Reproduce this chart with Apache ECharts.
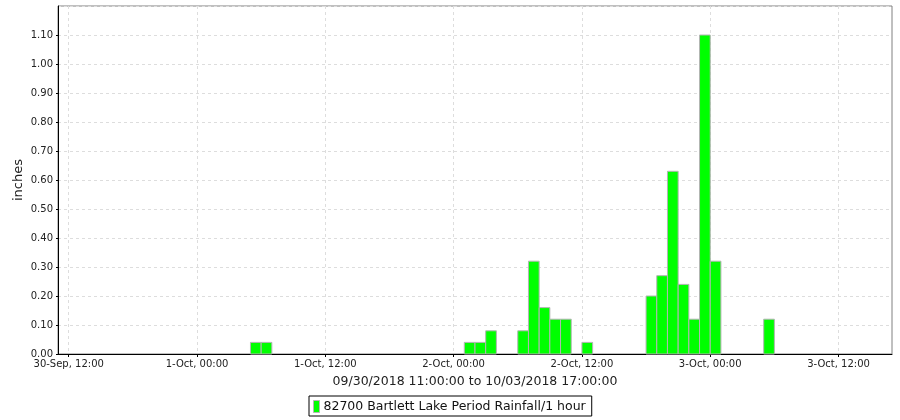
<!DOCTYPE html>
<html>
<head>
<meta charset="utf-8">
<script src="https://cdn.jsdelivr.net/npm/echarts@6/dist/echarts.min.js"></script>
<style>html,body{margin:0;padding:0;background:#fff;}#c{width:900px;height:420px;}</style>
</head>
<body>
<div id="c"></div>
<script>
// Period start times (UTC, hourly periods) and rainfall in inches
var periodStarts = [
  '2018-10-01T05:00', '2018-10-01T06:00',
  '2018-10-02T01:00', '2018-10-02T02:00', '2018-10-02T03:00',
  '2018-10-02T06:00', '2018-10-02T07:00', '2018-10-02T08:00', '2018-10-02T09:00', '2018-10-02T10:00',
  '2018-10-02T12:00',
  '2018-10-02T18:00', '2018-10-02T19:00', '2018-10-02T20:00', '2018-10-02T21:00', '2018-10-02T22:00', '2018-10-02T23:00',
  '2018-10-03T00:00',
  '2018-10-03T05:00'
];
var rainfall = [
  0.04, 0.04,
  0.04, 0.04, 0.08,
  0.08, 0.32, 0.16, 0.12, 0.12,
  0.04,
  0.20, 0.27, 0.63, 0.24, 0.12, 1.10,
  0.32,
  0.12
];
var rangeStart = '2018-09-30T11:00';
var rangeEnd = '2018-10-03T17:00';
var xTickTimes = [
  '2018-09-30T12:00', '2018-10-01T00:00', '2018-10-01T12:00', '2018-10-02T00:00',
  '2018-10-02T12:00', '2018-10-03T00:00', '2018-10-03T12:00'
];
var seriesName = '82700 Bartlett Lake Period Rainfall/1 hour';
var xAxisTitle = '09/30/2018 11:00:00 to 10/03/2018 17:00:00';
var yAxisTitle = 'inches';
var monthNames = ['Jan','Feb','Mar','Apr','May','Jun','Jul','Aug','Sep','Oct','Nov','Dec'];

function ms(s) { return Date.parse(s + ':00Z'); }
var HOUR = 3600 * 1000;
var data = periodStarts.map(function (s, i) { return [ms(s), ms(s) + HOUR, rainfall[i]]; });
function pad(n) { return (n < 10 ? '0' : '') + n; }
function fmtX(v) {
  var d = new Date(v);
  return d.getUTCDate() + '-' + monthNames[d.getUTCMonth()] + ', ' + pad(d.getUTCHours()) + ':' + pad(d.getUTCMinutes());
}
var font = 'DejaVu Sans';
var barFill = '#00ff00', barEdge = '#b4b4b4';
var chart = echarts.init(document.getElementById('c'), null, { renderer: 'canvas' });
chart.setOption({
  animation: false,
  backgroundColor: '#ffffff',
  textStyle: { fontFamily: font },
  grid: { left: 58, right: 8, top: 6, bottom: 66, show: true, borderColor: '#808080', borderWidth: 1, backgroundColor: '#ffffff' },
  xAxis: {
    type: 'value',
    min: ms(rangeStart), max: ms(rangeEnd),
    name: xAxisTitle, nameLocation: 'middle', nameGap: 21, nameMoveOverlap: false,
    nameTextStyle: { fontFamily: font, fontSize: 12.5, color: '#222' },
    axisLine: { show: true, onZero: false, lineStyle: { color: '#000', width: 1 } },
    axisTick: { show: true, length: 3, lineStyle: { color: '#000' }, customValues: xTickTimes.map(ms) },
    axisLabel: { customValues: xTickTimes.map(ms), formatter: fmtX, fontFamily: font, fontSize: 10, color: '#222', margin: 5 },
    splitLine: { show: true, lineStyle: { color: '#dddddd', type: [3, 3], width: 1 } }
  },
  yAxis: {
    type: 'value', min: 0, max: 1.2, interval: 0.1,
    name: yAxisTitle, nameLocation: 'middle', nameGap: 33, nameRotate: 90, nameMoveOverlap: false,
    nameTextStyle: { fontFamily: font, fontSize: 13, color: '#222' },
    axisLine: { show: true, lineStyle: { color: '#000', width: 1 } },
    axisTick: { show: true, length: 2, lineStyle: { color: '#000' } },
    axisLabel: { showMaxLabel: false, formatter: function (v) { return v.toFixed(2); }, fontFamily: font, fontSize: 10, color: '#222', margin: 5 },
    splitLine: { show: true, lineStyle: { color: '#dddddd', type: [3, 3], width: 1 } }
  },
  legend: {
    show: true, left: 309, top: 396,
    padding: [4, 6, 3, 4],
    borderColor: '#000', borderWidth: 1,
    icon: 'rect', itemWidth: 6, itemHeight: 12, itemGap: 4,
    itemStyle: { color: barFill, borderColor: barEdge, borderWidth: 1 },
    textStyle: { fontFamily: font, fontSize: 12.5, color: '#111', padding: [0, 0, 0, -1] },
    data: [seriesName]
  },
  series: [{
    name: seriesName,
    type: 'custom',
    data: data,
    encode: { x: [0, 1], y: 2 },
    itemStyle: { color: barFill, borderColor: barEdge, borderWidth: 1 },
    renderItem: function (params, api) {
      var p0 = api.coord([api.value(0), api.value(2)]);
      var p1 = api.coord([api.value(1), 0]);
      return {
        type: 'rect',
        shape: { x: p0[0], y: p0[1], width: p1[0] - p0[0], height: p1[1] - p0[1] },
        style: { fill: barFill, stroke: barEdge, lineWidth: 1 }
      };
    }
  }]
});
</script>
</body>
</html>
